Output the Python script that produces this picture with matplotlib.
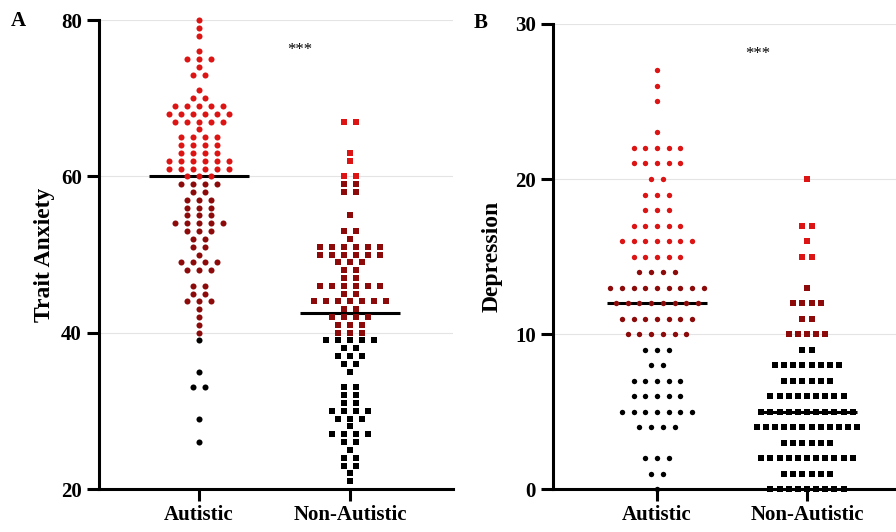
import numpy as np
import matplotlib.pyplot as plt
from matplotlib.transforms import blended_transform_factory

plt.rcParams['font.family'] = ['Liberation Serif', 'DejaVu Serif']

groups = ['Autistic', 'Non-Autistic']

# Trait anxiety: score -> number of participants at that score
anx_aut_scores = [80, 79, 78, 76, 75, 74, 73, 71, 70, 69, 68, 67, 66, 65, 64, 63, 62, 61, 60,
                  59, 58, 57, 56, 55, 54, 53, 52, 51, 50, 49, 48, 46, 45, 44, 43, 42, 41, 40,
                  39, 35, 33, 29, 26]
anx_aut_n = [1, 1, 1, 1, 3, 1, 2, 1, 2, 5, 6, 5, 1, 4, 4, 4, 6, 6, 3,
             4, 2, 3, 3, 3, 5, 3, 2, 2, 1, 4, 3, 2, 2, 3, 1, 1, 1, 1,
             1, 1, 2, 1, 1]
anx_non_scores = [67, 63, 62, 60, 59, 58, 55, 53, 52, 51, 50, 49, 48, 47, 46, 45, 44, 43, 42, 41, 40,
                  39, 38, 37, 36, 35, 33, 32, 31, 30, 29, 28, 27, 26, 25, 24, 23, 22, 21]
anx_non_n = [2, 1, 1, 2, 2, 2, 1, 2, 1, 6, 6, 3, 2, 2, 6, 2, 7, 2, 4, 3, 3,
             5, 2, 3, 2, 1, 2, 2, 2, 4, 3, 1, 4, 2, 1, 2, 2, 1, 1]

# Depression
dep_aut_scores = [27, 26, 25, 23, 22, 21, 20, 19, 18, 17, 16, 15, 14, 13, 12, 11, 10,
                  9, 8, 7, 6, 5, 4, 2, 1, 0]
dep_aut_n = [1, 1, 1, 1, 5, 5, 2, 3, 3, 5, 7, 5, 4, 9, 8, 7, 6,
             3, 2, 5, 5, 7, 4, 3, 2, 1]
dep_non_scores = [20, 17, 16, 15, 13, 12, 11, 10, 9, 8, 7, 6, 5, 4, 3, 2, 1, 0]
dep_non_n = [1, 2, 1, 2, 1, 4, 2, 5, 2, 8, 6, 9, 11, 12, 6, 11, 6, 9]

RED = '#dc1414'
DARK = '#8c0a0a'


def swarm(ax, xc, scores, counts, dx, marker, size, cuts):
    for y, n in zip(scores, counts):
        xs = xc + (np.arange(n) - (n - 1) / 2) * dx
        color = RED if y >= cuts[1] else (DARK if y >= cuts[0] else 'black')
        ax.scatter(xs, [y] * n, s=size, marker=marker, color=color,
                   linewidths=0, zorder=3, clip_on=False)
    med = np.median(np.repeat(scores, counts))
    ax.hlines(med, xc - 0.33, xc + 0.33, color='black', lw=2.2, zorder=2)


def style(ax, ylim, yticks, ylabel, pad):
    ax.set_ylim(*ylim)
    ax.set_yticks(yticks)
    ax.set_xticks([0, 1])
    ax.set_xticklabels(groups)
    for sp in ['top', 'right']:
        ax.spines[sp].set_visible(False)
    for sp in ['left', 'bottom']:
        ax.spines[sp].set_linewidth(2.2)
        ax.spines[sp].set_zorder(5)
    ax.tick_params(direction='out', length=8.5, width=2.2, labelsize=15, pad=3)
    ax.tick_params(axis='y', pad=4)
    for lab in ax.get_xticklabels() + ax.get_yticklabels():
        lab.set_fontweight('bold')
    ax.grid(axis='y', color='#e4e4e4', lw=0.8, zorder=0)
    ax.set_axisbelow(True)
    ax.set_ylabel(ylabel, fontsize=17, fontweight='bold', labelpad=pad)
    trans = blended_transform_factory(ax.transData, ax.transAxes)
    ax.text(0.67, 0.935, '***', transform=trans, ha='center', va='center', fontsize=12)


fig = plt.figure(figsize=(8.96, 5.32), dpi=100)

axA = fig.add_axes([0.1105, 0.0808, 0.395, 0.8816])
swarm(axA, 0, anx_aut_scores, anx_aut_n, 0.0795, 'o', 19, (40, 60))
swarm(axA, 1, anx_non_scores, anx_non_n, 0.0795, 's', 19, (40, 60))
axA.set_xlim(-0.662, 1.682)
style(axA, (20, 80), [20, 40, 60, 80], 'Trait Anxiety', 4)

axB = fig.add_axes([0.6172, 0.0808, 0.3828, 0.8741])
swarm(axB, 0, dep_aut_scores, dep_aut_n, 0.078, 'o', 15, (10, 15))
swarm(axB, 1, dep_non_scores, dep_non_n, 0.061, 's', 14, (10, 15))
axB.set_xlim(-0.693, 1.593)
style(axB, (0, 30), [0, 10, 20, 30], 'Depression', 9)

fig.text(18 / 896, 1 - 21 / 532, 'A', fontsize=15, fontweight='bold', ha='center', va='center')
fig.text(481 / 896, 1 - 23 / 532, 'B', fontsize=15, fontweight='bold', ha='center', va='center')

fig.savefig('out.png', dpi=100)
